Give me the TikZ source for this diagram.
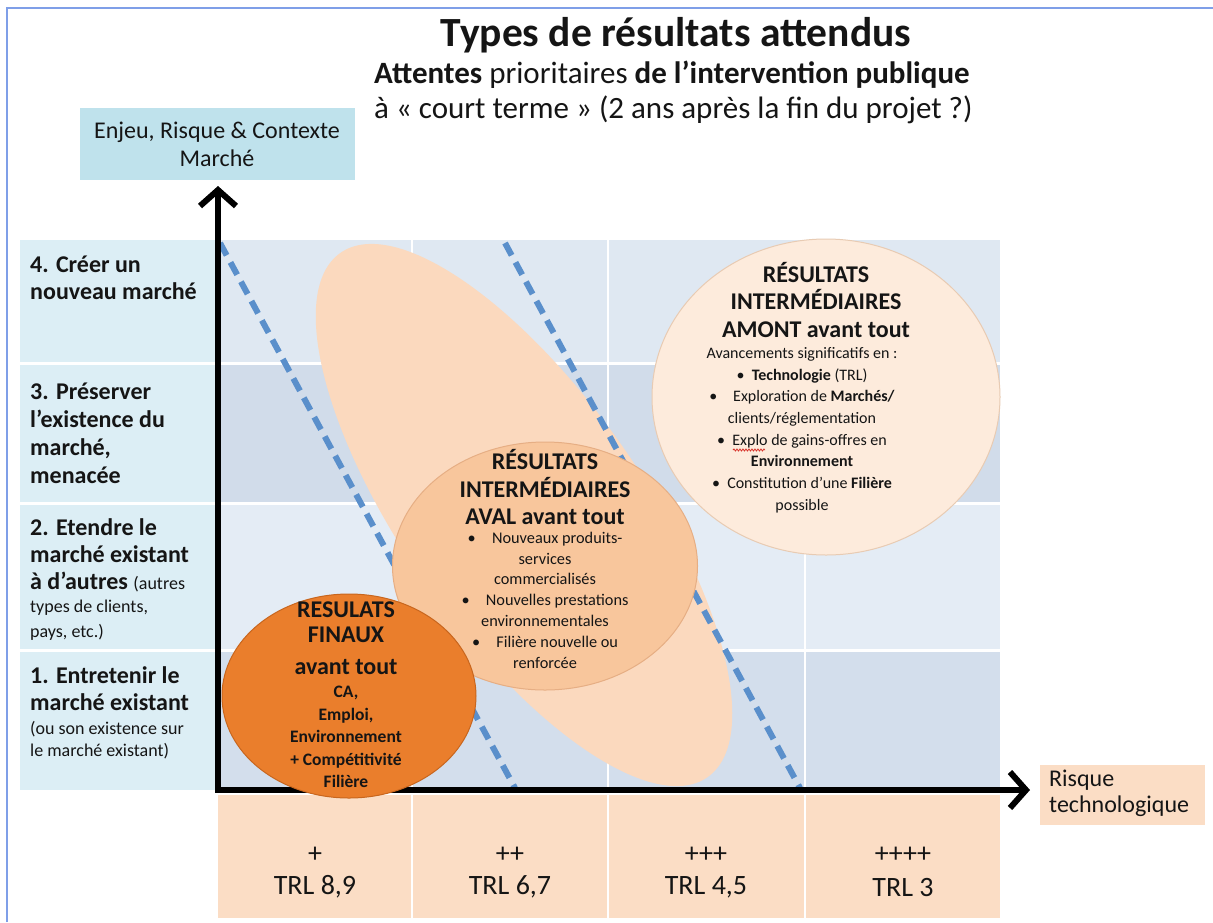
\documentclass[tikz,border=0pt]{standalone}
\usepackage{fontspec}
\setmainfont{Carlito}
\usetikzlibrary{arrows.meta,shapes.geometric,decorations.pathmorphing}
\definecolor{ink}{HTML}{151515}
\definecolor{frame}{HTML}{7F9FE8}
\definecolor{leftcol}{HTML}{DCEEF5}
\definecolor{rowA}{HTML}{DFE8F2}
\definecolor{rowB}{HTML}{D1DCEA}
\definecolor{rowC}{HTML}{E4ECF5}
\definecolor{rowD}{HTML}{D3DEEC}
\definecolor{peach}{HTML}{FBDDC5}
\definecolor{enjeucol}{HTML}{BFE2EC}
\definecolor{bigellcol}{HTML}{FBD9BE}
\definecolor{avalcol}{HTML}{F8C69C}
\definecolor{avaledge}{HTML}{E6AE84}
\definecolor{amontcol}{HTML}{FDEBDC}
\definecolor{amontedge}{HTML}{E8CBB3}
\definecolor{finauxcol}{HTML}{EA7E2C}
\definecolor{finauxedge}{HTML}{C8661E}
\definecolor{dashcol}{HTML}{5A8FCB}
\definecolor{spellred}{HTML}{D8322A}
\newcommand{\fsz}[2]{\fontsize{#1}{#2}\selectfont}
\begin{document}
\begin{tikzpicture}[x=1pt,y=-1pt,
  txt/.style={text=ink, inner sep=0pt},
  lblbold/.style={txt, anchor=north west, align=left, font=\fsz{24}{27}\bfseries},
  lblreg/.style={txt, anchor=north west, align=left, font=\fsz{18}{23}},
  head/.style={txt, align=center, font=\fsz{24}{27.5}\bfseries},
  body/.style={txt, align=center, font=\fsz{16}{21.7}},
  dashline/.style={draw=dashcol, line width=6pt, dash pattern=on 14pt off 8pt},
  axis/.style={draw=black, line width=6pt, line join=miter,
     {Straight Barb[length=16pt,width=36pt]}-{Straight Barb[length=16pt,width=36pt]}},
  sep/.style={draw=white, line width=2pt}]
\useasboundingbox (0,0) rectangle (1213,922);
\fill[white] (0,0) rectangle (1213,922);
% slide frame
\draw[frame, line width=2pt] (7,922) -- (7,8) -- (1213,8);
% left column
\fill[leftcol] (20,240) rectangle (215,361.5);
\fill[leftcol] (20,364.5) rectangle (215,502);
\fill[leftcol] (20,505) rectangle (215,648.5);
\fill[leftcol] (20,651.5) rectangle (215,790);
% grid
\fill[rowA] (218,240) rectangle (1000,361.5);
\fill[rowB] (218,364.5) rectangle (1000,502);
\fill[rowC] (218,505) rectangle (1000,648.5);
\fill[rowD] (218,651.5) rectangle (1000,792);
\foreach \x in {412,608,805} \draw[sep] (\x,240) -- (\x,792);
% bottom TRL row
\fill[peach] (218,795) rectangle (1000,918);
\foreach \x in {412,608,805} \draw[sep] (\x,795) -- (\x,918);
% big ellipse
\node[ellipse, fill=bigellcol, minimum width=640pt, minimum height=240pt, rotate=-55, inner sep=0pt] (bigell) at (524,515) {};
% dashed lines
\coordinate (d1a) at (220,243);
\coordinate (d1b) at (515,788);
\coordinate (d2a) at (505,243);
\coordinate (d2b) at (800,788);
\draw[dashline] (d1a) -- (d1b);
\draw[dashline] (d2a) -- (d2b);
% amont and aval ellipses
\node[ellipse, fill=amontcol, draw=amontedge, line width=1pt, minimum width=348pt, minimum height=316pt, inner sep=0pt] (amont) at (826,397) {};
\node[ellipse, fill=avalcol, draw=avaledge, line width=1pt, minimum width=305pt, minimum height=248pt, inner sep=0pt] (aval) at (545,566) {};
% axes
\coordinate (ytip) at (218,186);
\coordinate (origin) at (218,790);
\coordinate (xtip) at (1030,790);
\draw[axis] (ytip) -- (origin) -- (xtip);
% finaux ellipse
\node[ellipse, fill=finauxcol, draw=finauxedge, line width=1pt, minimum width=254pt, minimum height=204pt, inner sep=0pt] (finaux) at (349,696) {};
% title
\node[txt, font=\fsz{41.5}{45}\bfseries] (title) at (676,35) {Types de résultats attendus};
\node[txt, anchor=west, font=\fsz{31}{34}] (sub1) at (374,75) {\textbf{Attentes} prioritaires \textbf{de l’intervention publique}};
\node[txt, anchor=west, font=\fsz{31}{34}] (sub2) at (374,110) {à « court terme » (2 ans après la fin du projet ?)};
% axis labels
\node[fill=enjeucol, minimum width=275pt, minimum height=72pt, inner sep=0pt] (enjeu) at (217,144) {};
\node[txt, align=center, font=\fsz{24}{28}] (enjeut) at (enjeu.center) {Enjeu, Risque \& Contexte\\Marché};
\node[fill=peach, minimum width=165pt, minimum height=60pt, inner sep=0pt] (risque) at (1122,795) {};
\node[txt, anchor=west, align=left, font=\fsz{24}{26}] (risquet) at (1049,793) {Risque\\technologique};
% left labels
\node[lblbold] (l4) at (30,256) {4. Créer un\\nouveau marché};
\node[lblbold, font=\fsz{24}{28}\bfseries] (l3) at (30,383) {3. Préserver\\l’existence du\\marché,\\menacée};
\node[lblbold] (l2) at (30,518) {2. Etendre le\\marché existant\\à d’autres {\fsz{18}{27}\mdseries(autres}};
\node[lblreg, font=\fsz{18}{25}] (l2b) at (30,600) {types de clients,\\pays, etc.)};
\node[lblbold] (l1) at (30,666) {1. Entretenir le\\marché existant};
\node[lblreg, font=\fsz{18}{22.5}] (l1b) at (30,721) {(ou son existence sur\\le marché existant)};
% TRL row
\node[txt, font=\fsz{28}{32}] (p1) at (315,855) {+};
\node[txt, font=\fsz{28}{32}] (p2) at (510,855) {++};
\node[txt, font=\fsz{28}{32}] (p3) at (706,855) {+++};
\node[txt, font=\fsz{28}{32}] (p4) at (903,855) {++++};
\node[txt, font=\fsz{28}{32}] (t1) at (315,887) {TRL 8,9};
\node[txt, font=\fsz{28}{32}] (t2) at (510,887) {TRL 6,7};
\node[txt, font=\fsz{28}{32}] (t3) at (706,887) {TRL 4,5};
\node[txt, font=\fsz{28}{32}] (t4) at (903,887) {TRL 3};
% AMONT text
\node[head] (amonth) at (816,300) {RÉSULTATS\\INTERMÉDIAIRES\\AMONT avant tout};
\node[body] (amontb) at (802,430) {Avancements significatifs en :\\
  •\ \ \textbf{Technologie} (TRL)\\
  •\quad Exploration de \textbf{Marchés/}\\
  clients/réglementation\\
  •\ \ Explo de gains-offres en\\
  \textbf{Environnement}\\
  •\ \ Constitution d’une \textbf{Filière}\\
  possible};
\coordinate (spA) at (733,450);
\coordinate (spB) at (765,450);
\draw[spellred, line width=0.8pt, decorate, decoration={snake, amplitude=1pt, segment length=3pt}] (spA) -- (spB);
% AVAL text
\node[body, font=\fsz{24}{27.5}\bfseries] (avalh) at (545,487) {RÉSULTATS\\INTERMÉDIAIRES\\AVAL avant tout};
\node[body, font=\fsz{16.3}{20.8}] (avalb) at (545,600) {•\quad Nouveaux produits-\\
  services\\
  commercialisés\\
  •\quad Nouvelles prestations\\
  environnementales\\
  •\quad Filière nouvelle ou\\
  renforcée};
% FINAUX text
\node[head, font=\fsz{24}{25}\bfseries] (finauxh) at (346,622) {RESULATS\\FINAUX};
\node[txt, font=\fsz{24}{27}\bfseries] (finauxa) at (346,667) {avant tout};
\node[txt, align=center, font=\fsz{17.5}{22.5}\bfseries] (finauxb) at (346,737) {CA,\\Emploi,\\Environnement\\+ Compétitivité\\Filière};
\end{tikzpicture}
\end{document}
